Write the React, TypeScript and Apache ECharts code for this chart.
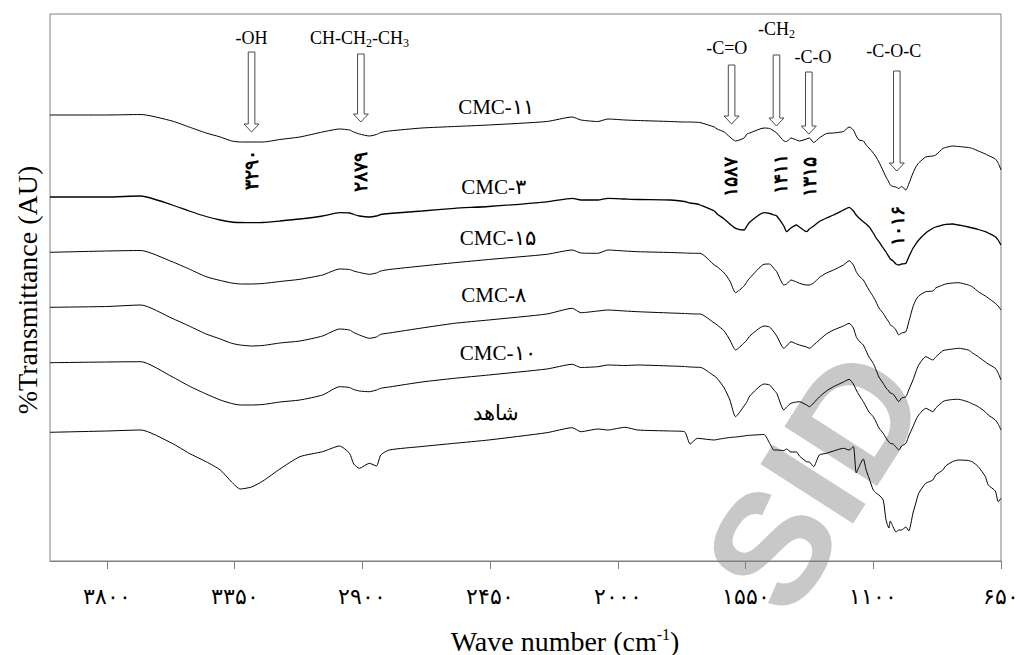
import { useEffect, useRef } from 'react';
import * as echarts from 'echarts';

// Wavenumber grid (cm-1), shared by every spectrum
const wavenumbers = [4000, 3800, 3680, 3570, 3510, 3450, 3400, 3360, 3330, 3290, 3250, 3190, 3120, 3040, 2980, 2945, 2930, 2910, 2875, 2850, 2835, 2805, 2690, 2575, 2455, 2250, 2160, 2130, 2070, 2035, 1975, 1930, 1815, 1765, 1745, 1720, 1710, 1660, 1650, 1625, 1605, 1585, 1555, 1545, 1535, 1485, 1465, 1450, 1440, 1415, 1405, 1390, 1370, 1360, 1335, 1325, 1310, 1290, 1265, 1240, 1205, 1185, 1170, 1160, 1150, 1135, 1125, 1115, 1100, 1090, 1080, 1065, 1055, 1045, 1040, 1030, 1020, 1010, 1000, 985, 975, 960, 950, 940, 915, 890, 880, 855, 845, 820, 800, 765, 750, 730, 705, 695, 670, 660, 650];

// Offset transmittance (arbitrary units) of each sample
const cmc11 = [446, 446, 446.5, 440, 434, 428, 424, 420, 419, 419, 419, 421.5, 424, 429, 432, 431, 429, 427, 425, 426.5, 428.5, 430, 433, 434.5, 436, 439.5, 444, 441, 439.5, 442, 441, 440.5, 439.5, 439, 439, 438.7, 438.5, 434, 432, 429, 424, 420, 423, 427, 428, 433, 432.5, 430, 428, 420, 419.5, 423, 421, 420, 422, 423, 418.5, 423, 427.5, 428, 429.5, 434, 431, 425, 421, 420, 416, 413, 408, 404, 399, 390, 384, 379, 376, 374.5, 374, 372.5, 374.5, 371, 377, 388, 394, 398, 404, 405, 406, 412.5, 413.5, 415, 414.5, 413.5, 412.5, 410, 407, 405.5, 402, 398, 391];
const cmc3 = [364, 364, 365, 356, 350, 344.5, 341, 339, 338.5, 338.3, 338.5, 340, 342, 345, 348.3, 348, 346.5, 345, 344, 345, 346.5, 347.5, 350, 352.7, 354.5, 359.2, 362.7, 361, 361, 362.7, 362, 361.5, 361, 359.5, 358, 357, 356, 350, 347, 342, 337, 332.7, 331, 335, 339, 348.3, 347.5, 346, 345, 335, 329.3, 333, 336, 334, 329.3, 332, 335, 339.5, 343, 346, 351, 353.7, 350, 346, 343, 339.3, 337, 334.3, 328, 323, 319.3, 313, 309, 304.3, 302, 300, 297, 296, 297, 297.7, 304, 312.7, 317, 321, 328, 332.7, 334, 336, 336.7, 337, 336, 334, 333, 331.5, 329.3, 328, 324.3, 321, 316];
const cmc15 = [308.7, 310, 310.5, 299.3, 292, 284.3, 280.5, 278, 277, 277, 277.5, 279.5, 281.7, 286, 292, 291.5, 290, 288.5, 286.7, 288, 290, 291.5, 295, 298.3, 301.5, 306.7, 311, 308, 307.7, 311, 310, 309.3, 308.5, 308, 307.8, 307.7, 307.7, 296, 294.3, 288, 280, 268.3, 275, 279.3, 283, 296.7, 297, 292.5, 289.3, 276, 277, 281, 279, 277.7, 276, 276, 278, 283.5, 288, 291, 296, 300.3, 296, 289.3, 285, 281, 276, 271, 264.3, 259, 253, 247.7, 243, 239, 236, 234.3, 231, 226, 228, 229.3, 239, 254.3, 261, 265, 269.3, 270, 273, 276, 277, 278, 278.3, 276, 274, 269.3, 265, 263, 257.7, 255, 251];
const cmc8 = [253.7, 254.5, 256, 242.7, 235, 227, 222, 217.7, 216, 215, 215.5, 218, 220, 225, 232, 231, 228.5, 226, 222.7, 224, 226.7, 228, 233, 237.7, 241, 247, 252.7, 248.3, 250, 251, 250, 249.3, 248, 247.5, 247.2, 247, 247, 238, 236, 230, 221, 211, 218, 221, 225, 235, 234, 229, 225, 212.7, 215, 219.3, 217, 216, 214, 212.7, 216, 221, 227, 231, 235, 237.7, 233, 224.3, 220, 216, 210, 204, 197.7, 191, 184, 177.7, 173, 170, 168, 167, 163, 159.3, 163, 164.3, 171, 181, 189, 196, 204.3, 201, 204, 210.3, 211, 212, 212.7, 211, 208, 204.3, 199, 197, 192.7, 188, 181];
const cmc10 = [198.3, 199, 199.3, 184.3, 175, 167, 161, 157.5, 156, 156, 156.5, 159, 161, 166, 174.3, 173.5, 171.5, 170, 169.3, 171, 172.7, 174, 179, 182.7, 186, 192, 196.7, 193.5, 194.3, 196, 195.5, 196, 195, 194.5, 194, 193.7, 193.7, 185, 182.7, 173, 161, 144.3, 155, 159.3, 165, 177, 176, 171, 167.7, 151, 154, 157.7, 159, 159.3, 156, 154.3, 158, 164, 170, 174.3, 179, 181.7, 177, 171, 166, 159.3, 154, 149, 144.3, 139, 133, 127.7, 123, 119, 117.7, 117, 114, 111, 115, 117.7, 125, 134.3, 141, 146, 152.7, 149.3, 153, 159.3, 160.5, 161.5, 161.7, 159, 157, 154.3, 149, 146, 141, 137, 131];
const control = [128.7, 130, 131, 117.7, 107.7, 99.3, 91, 79, 72, 74, 80, 92, 104.3, 109.3, 115, 107.7, 97, 92.7, 97.7, 95, 106, 111, 114.5, 117.7, 121, 128.3, 133.3, 129.3, 132, 131, 133.7, 131, 130, 129.3, 117, 122.7, 122.5, 121, 121.5, 122.7, 123.5, 124, 125, 125.5, 125.7, 126.5, 117.7, 111, 111, 110.5, 112, 109, 109, 105, 99.3, 99, 94.3, 106, 107.7, 110, 112.7, 111, 114.5, 88, 94.3, 102, 91, 83, 71, 68, 66, 61, 41, 33, 40, 34, 29, 31, 31, 34, 30, 48, 58, 67.7, 77.7, 81, 86, 91, 95, 99.5, 101, 100.5, 99, 94.3, 84.3, 76, 70, 59.3, 62.7];

const seriesNames = ['CMC-11', 'CMC-3', 'CMC-15', 'CMC-8', 'CMC-10', 'شاهد'];

// Sample labels printed beside each spectrum
const sampleLabels = ['CMC-۱۱', 'CMC-۳', 'CMC-۱۵', 'CMC-۸', 'CMC-۱۰', 'شاهد'];
const sampleLabelWn = [2429, 2437, 2423, 2437, 2423, 2429];
const sampleLabelY = [454, 374, 323, 266, 208, 148];

// Functional-group arrows
const arrowLabels = ['{a|-OH}', '{a|CH-CH}{s|2}{a|-CH}{s|3}', '{a|-C=O}', '{a|-CH}{s|2}', '{a|-C-O}', '{a|-C-O-C}'];
const arrowWn = [3290, 2905, 1599, 1441, 1327, 1017];
const arrowTop = [509, 507, 496, 506, 489, 490];
const arrowTip = [429, 439, 437, 435, 427, 390];
const arrowLabelWn = [3290, 2910, 1616, 1441, 1312, 1028];
const arrowLabelY = [523, 523, 513, 532, 504, 510];

// Peak positions written vertically
const peakLabels = [3290, 2879, 1587, 1411, 1315, 1016];
const peakWn = [3290, 2906, 1604, 1425, 1326, 1015];
const peakY = [391, 389, 384, 387.5, 384, 335];

const xTickValues = [3800, 3350, 2900, 2450, 2000, 1550, 1100, 650];

const PERSIAN = '۰۱۲۳۴۵۶۷۸۹';
const toPersian = (v: number | string) => String(v).replace(/\d/g, (d) => PERSIAN[Number(d)]);

const SERIF = "'Times New Roman', 'Liberation Serif', serif";

export default function App() {
  const ref = useRef<HTMLDivElement>(null);

  useEffect(() => {
    const chart = echarts.init(ref.current!, undefined, { renderer: 'svg' });
    const spectra = [cmc11, cmc3, cmc15, cmc8, cmc10, control];

    const lineSeries = spectra.map((vals, i) => ({
      type: 'line',
      name: seriesNames[i],
      data: wavenumbers.map((w, j) => [w, vals[j]]),
      showSymbol: false,
      smooth: 0.2,
      lineStyle: { color: '#000', width: i === 1 ? 1.3 : 1 },
      z: 3,
    }));

    const arrowSeries = {
      type: 'custom',
      name: 'arrows',
      z: 4,
      data: arrowWn.map((w, i) => [w, arrowTop[i], arrowTip[i], arrowLabelWn[i], arrowLabelY[i]]),
      renderItem: (params: any, api: any) => {
        const w = api.value(0);
        const top = api.coord([w, api.value(1)]);
        const tip = api.coord([w, api.value(2)]);
        const lab = api.coord([api.value(3), api.value(4)]);
        const x = top[0];
        const y0 = top[1];
        const y1 = tip[1];
        const sw = 3.3;
        const hw = 7.5;
        const hh = 8;
        return {
          type: 'group',
          children: [
            {
              type: 'polygon',
              shape: {
                points: [
                  [x - sw, y0], [x + sw, y0], [x + sw, y1 - hh], [x + hw, y1 - hh],
                  [x, y1], [x - hw, y1 - hh], [x - sw, y1 - hh],
                ],
              },
              style: { fill: '#fff', stroke: '#4a4a4a', lineWidth: 1 },
            },
            {
              type: 'text',
              x: lab[0],
              y: lab[1],
              style: {
                text: arrowLabels[params.dataIndex],
                align: 'center',
                verticalAlign: 'middle',
                fill: '#000',
                rich: {
                  a: { fontSize: 18, fontFamily: SERIF, lineHeight: 22, fill: '#000' },
                  s: { fontSize: 12, fontFamily: SERIF, lineHeight: 12, verticalAlign: 'bottom', fill: '#000' },
                },
              },
            },
          ],
        };
      },
    };

    const peakSeries = {
      type: 'custom',
      name: 'peaks',
      z: 4,
      data: peakWn.map((w, i) => [w, peakY[i]]),
      renderItem: (params: any, api: any) => {
        const p = api.coord([api.value(0), api.value(1)]);
        return {
          type: 'text',
          x: p[0],
          y: p[1],
          rotation: Math.PI / 2,
          style: {
            text: toPersian(peakLabels[params.dataIndex]),
            align: 'center',
            verticalAlign: 'middle',
            fontSize: 19,
            fontWeight: 'bold',
            fontFamily: SERIF,
            fill: '#000',
          },
        };
      },
    };

    const sampleSeries = {
      type: 'custom',
      name: 'samples',
      z: 4,
      data: sampleLabelWn.map((w, i) => [w, sampleLabelY[i]]),
      renderItem: (params: any, api: any) => {
        const p = api.coord([api.value(0), api.value(1)]);
        return {
          type: 'text',
          x: p[0],
          y: p[1],
          style: {
            text: sampleLabels[params.dataIndex],
            align: 'center',
            verticalAlign: 'middle',
            fontSize: 21,
            fontFamily: SERIF,
            fill: '#000',
          },
        };
      },
    };

    chart.setOption({
      animation: false,
      backgroundColor: '#fff',
      grid: {
        left: 50,
        right: 16,
        top: 14,
        bottom: 94,
        show: true,
        borderColor: '#808080',
        borderWidth: 1,
        backgroundColor: 'transparent',
      },
      xAxis: {
        type: 'value',
        min: 650,
        max: 4000,
        inverse: true,
        axisLine: { show: true, lineStyle: { color: '#808080', width: 1 } },
        axisTick: {
          show: true,
          length: 8,
          inside: false,
          customValues: xTickValues,
          lineStyle: { color: '#808080' },
        },
        axisLabel: {
          customValues: xTickValues,
          formatter: (v: number) => toPersian(v),
          fontSize: 22,
          fontFamily: SERIF,
          color: '#000',
          margin: 24,
          hideOverlap: false,
          showMinLabel: true,
          showMaxLabel: true,
        },
        splitLine: { show: false },
      },
      yAxis: {
        type: 'value',
        min: 0,
        max: 547,
        axisLine: { show: false },
        axisTick: { show: false },
        axisLabel: { show: false },
        splitLine: { show: false },
      },
      graphic: [
        {
          type: 'text',
          z: -1,
          x: 815,
          y: 480,
          rotation: 1.0,
          silent: true,
          style: {
            text: 'SID',
            align: 'center',
            verticalAlign: 'middle',
            fontSize: 160,
            fontWeight: 'bold',
            fontFamily: "'Liberation Sans', Arial, sans-serif",
            fill: '#c8c8c8',
          },
        },
        {
          type: 'text',
          x: 27,
          y: 290,
          rotation: Math.PI / 2,
          style: {
            text: '%Transmittance (AU)',
            align: 'center',
            verticalAlign: 'middle',
            fontSize: 28,
            fontFamily: SERIF,
            fill: '#000',
          },
        },
        {
          type: 'text',
          x: 565,
          y: 641,
          style: {
            text: '{a|Wave number (cm}{s|-1}{a|)}',
            align: 'center',
            verticalAlign: 'middle',
            fill: '#000',
            rich: {
              a: { fontSize: 28, fontFamily: SERIF, lineHeight: 30, fill: '#000' },
              s: { fontSize: 16, fontFamily: SERIF, lineHeight: 16, verticalAlign: 'top', fill: '#000' },
            },
          },
        },
      ],
      series: [...lineSeries, arrowSeries, peakSeries, sampleSeries],
    });

    return () => chart.dispose();
  }, []);

  return (
    <div
      ref={ref}
      style={{ position: 'fixed', left: 0, top: 0, width: 1022, height: 655, background: '#fff' }}
    />
  );
}
